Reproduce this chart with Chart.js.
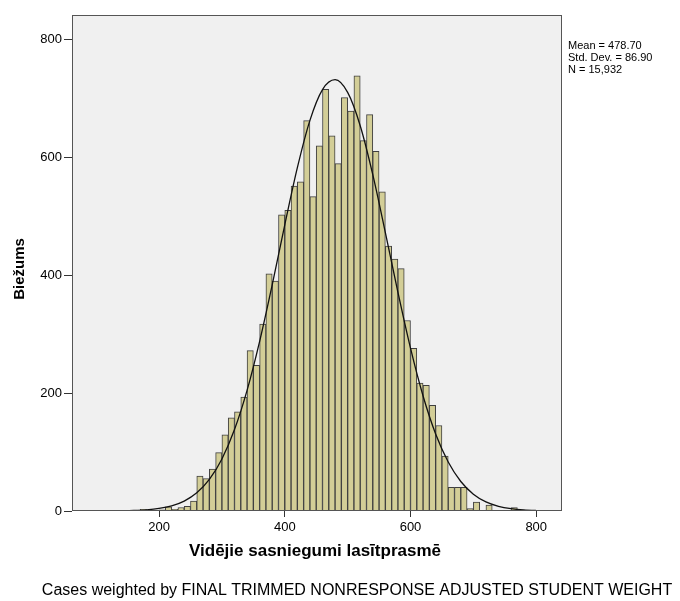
<!DOCTYPE html>
<html>
<head>
<meta charset="utf-8">
<script src="https://cdn.jsdelivr.net/npm/chart.js@4.4.0/dist/chart.umd.min.js"></script>
<style>
  body { margin: 0; background: #fff; }
  #wrap { width: 680px; height: 601px; }
</style>
</head>
<body>
<div id="wrap"><canvas id="histChart" width="680" height="601"></canvas></div>
<script>
// Histogram bins (left edge of each 10-point bin) and weighted counts
const binStarts = [170, 180, 190, 200, 210, 220, 230, 240, 250, 260, 270, 280, 290, 300, 310, 320,
  330, 340, 350, 360, 370, 380, 390, 400, 410, 420, 430, 440, 450, 460, 470, 480, 490, 500, 510,
  520, 530, 540, 550, 560, 570, 580, 590, 600, 610, 620, 630, 640, 650, 660, 670, 680, 690, 700,
  710, 720, 730, 740, 750, 760];
const counts = [3, 1, 0, 2, 7, 3, 6, 8, 17, 59, 55, 71, 99, 129, 158, 168,
  193, 272, 247, 317, 402, 390, 502, 510, 551, 558, 662, 533, 619, 715, 636, 589, 701, 678, 738,
  628, 672, 610, 541, 449, 427, 411, 323, 276, 217, 213, 179, 145, 93, 40, 40, 40, 4, 15,
  1, 10, 0, 0, 0, 6];
const binWidth = 10;

// Normal curve, read at every 20 points
const curveX = [60, 80, 100, 120, 140, 160, 180, 200, 220, 240, 260, 280, 300, 320, 340, 360,
  380, 400, 420, 440, 460, 480, 500, 520, 540, 560, 580, 600, 620, 640, 660, 680, 700, 720,
  740, 760, 780, 800, 820, 840];
const curveY = [0, 0, 0.05, 0.15, 0.4, 0.9, 2.0, 4.3, 8.7, 16.8, 30.8, 53.5, 88.3, 138.1, 204.6, 287.7,
  383.6, 485.2, 582.1, 662.4, 714.6, 731.3, 709.8, 653.3, 570.3, 472.1, 370.8, 276.1, 195.0, 130.6,
  83.0, 50.0, 28.6, 15.5, 8.0, 3.9, 1.8, 0.8, 0.3, 0.1];

const xTicks = [200, 400, 600, 800];
const yTicks = [0, 200, 400, 600, 800];
const statsLines = ['Mean = 478.70', 'Std. Dev. = 86.90', 'N = 15,932'];

const FONT = '"Liberation Sans", Arial, sans-serif';

const frameAndText = {
  id: 'frameAndText',
  beforeDraw(chart) {
    const { ctx, chartArea: a } = chart;
    ctx.save();
    ctx.fillStyle = '#f0f0f0';
    ctx.fillRect(a.left, a.top, a.right - a.left, a.bottom - a.top);
    ctx.restore();
  },
  afterDraw(chart) {
    const { ctx, chartArea: a } = chart;
    ctx.save();
    ctx.strokeStyle = '#555';
    ctx.lineWidth = 1;
    ctx.strokeRect(a.left + 0.5, a.top + 0.5, a.right - a.left - 1, a.bottom - a.top - 1);

    ctx.fillStyle = '#000';
    ctx.textBaseline = 'middle';
    // stats box
    ctx.font = '11px ' + FONT;
    ctx.textAlign = 'left';
    statsLines.forEach((t, i) => ctx.fillText(t, a.right + 6, 46 + i * 12));

    // x title
    ctx.font = 'bold 17px ' + FONT;
    ctx.textAlign = 'center';
    ctx.fillText('Vidējie sasniegumi lasītprasmē', 315, 551);

    // y title
    ctx.font = 'bold 15px ' + FONT;
    ctx.save();
    ctx.translate(20, 269);
    ctx.rotate(-Math.PI / 2);
    ctx.fillText('Biežums', 0, 0);
    ctx.restore();

    // footer
    ctx.font = '16px ' + FONT;
    ctx.fillText('Cases weighted by FINAL TRIMMED NONRESPONSE ADJUSTED STUDENT WEIGHT', 357, 591, 638);
    ctx.restore();
  }
};

const ctx = document.getElementById('histChart').getContext('2d');
const histChart = new Chart(ctx, {
  type: 'bar',
  data: {
    datasets: [
      {
        type: 'line',
        label: 'Normal',
        data: curveX.map((x, i) => ({ x: x, y: curveY[i] })),
        borderColor: '#111',
        borderWidth: 1.3,
        pointRadius: 0,
        cubicInterpolationMode: 'monotone',
        fill: false,
        order: 0,
      },
      {
        type: 'bar',
        label: 'Biežums',
        data: binStarts.map((s, i) => ({ x: s + binWidth / 2, y: counts[i] })),
        backgroundColor: '#d3ce97',
        borderColor: '#3f3f3f',
        borderWidth: 1,
        barPercentage: 1,
        categoryPercentage: 1,
        order: 1,
      },
    ],
  },
  options: {
    responsive: false,
    animation: false,
    layout: {
      padding: { top: 15, right: 118, left: 0, bottom: 0 }
    },
    plugins: {
      legend: { display: false },
      tooltip: { enabled: false },
    },
    scales: {
      x: {
        type: 'linear',
        min: 61.5,
        max: 841,
        offset: false,
        afterFit: function(scale) { scale.height = 90; },
        afterBuildTicks: function(scale) { scale.ticks = xTicks.map(v => ({ value: v })); },
        ticks: {
          color: '#000',
          padding: 3,
          maxRotation: 0,
          font: { family: FONT, size: 13 },
        },
        grid: {
          offset: false,
          drawOnChartArea: false,
          drawTicks: true,
          tickLength: 6,
          color: '#333',
        },
        border: { display: false },
      },
      y: {
        min: 0,
        max: 841,
        afterFit: function(scale) { scale.width = 72; },
        afterBuildTicks: function(scale) { scale.ticks = yTicks.map(v => ({ value: v })); },
        ticks: {
          color: '#000',
          padding: 2,
          font: { family: FONT, size: 13 },
        },
        grid: {
          drawOnChartArea: false,
          drawTicks: true,
          tickLength: 8,
          color: '#333',
        },
        border: { display: false },
      }
    }
  },
  plugins: [frameAndText]
});
</script>
</body>
</html>
